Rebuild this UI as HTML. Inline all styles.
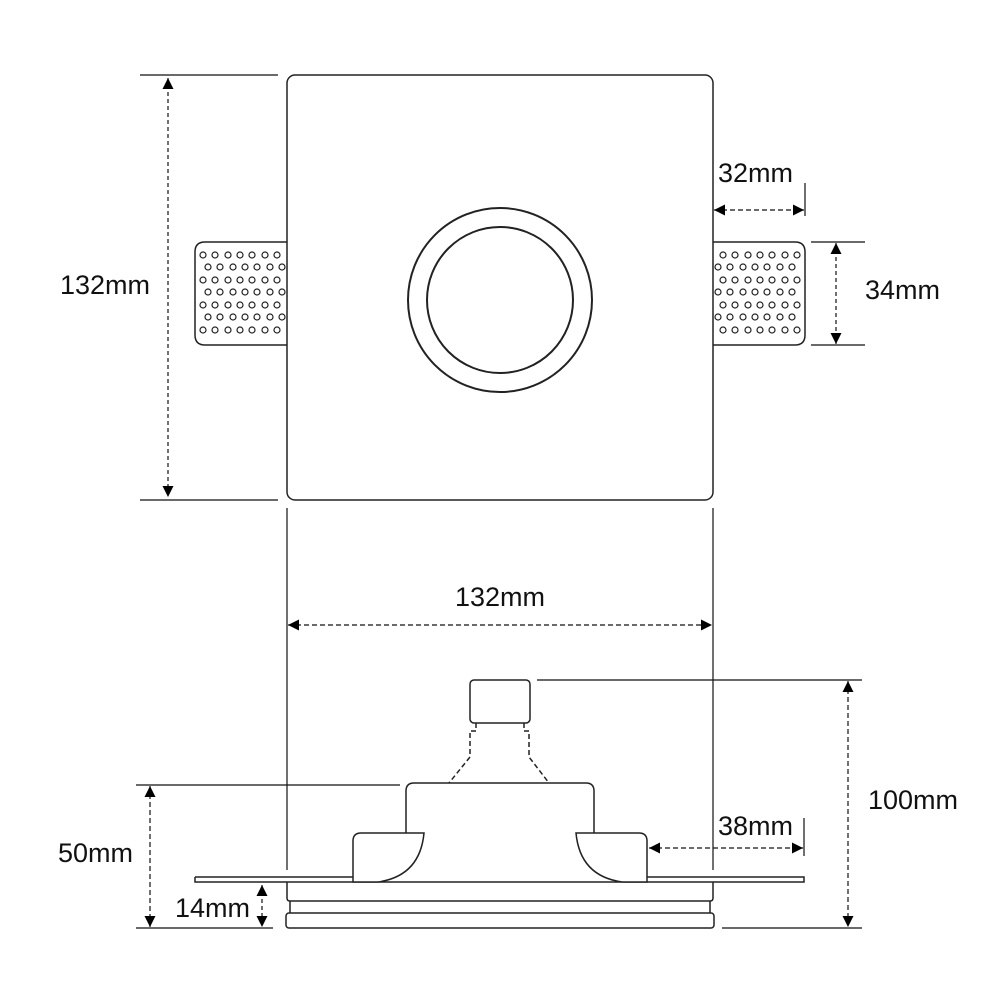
<!DOCTYPE html>
<html><head><style>
html,body{margin:0;padding:0;background:#fff;width:1000px;height:1000px;overflow:hidden}
text{font-family:"Liberation Sans",Arial,sans-serif;font-size:27px;fill:#111}
</style></head><body>
<svg width="1000" height="1000" viewBox="0 0 1000 1000" xmlns="http://www.w3.org/2000/svg">
<defs>
<marker id="ah" viewBox="0 0 10 10" refX="10" refY="5" markerWidth="11" markerHeight="11" markerUnits="userSpaceOnUse" orient="auto-start-reverse"><path d="M0,0 L10,5 L0,10 z" fill="#000"/></marker>
<g id="row1"><circle cx="203" r="3"/><circle cx="215" r="3"/><circle cx="228" r="3"/><circle cx="240" r="3"/><circle cx="252" r="3"/><circle cx="265" r="3"/><circle cx="277" r="3"/></g>
<g id="tab">
<path d="M287,242 H205 Q195,242 195,252 V335 Q195,345 205,345 H287"/>
<g stroke-width="1.2">
<use href="#row1" y="255"/><use href="#row1" y="280"/><use href="#row1" y="305"/><use href="#row1" y="330"/>
<use href="#row1" x="5" y="267"/><use href="#row1" x="5" y="292"/><use href="#row1" x="5" y="317"/>
</g>
</g>
</defs>
<g fill="none" stroke="#222" stroke-width="1.5">
<use href="#tab"/>
<use href="#tab" transform="translate(1000,0) scale(-1,1)"/>
<rect x="287" y="75" width="426" height="425" rx="8" fill="#fff"/>
<circle cx="500" cy="300" r="92" stroke-width="2"/>
<circle cx="500" cy="300" r="73" stroke-width="2"/>

<rect x="470" y="680" width="60" height="43" rx="4"/>
<path d="M476,723 V731 H470 V757 L449,783 M524,723 V731 H529 V757 L549,783" stroke-dasharray="5,3"/>
<path d="M406,833 V791 Q406,783 414,783 H586 Q594,783 594,791 V833"/>
<path d="M195,877 H353 M647,877 H804 V882 H195 V877"/>
<path d="M424,833 H361 Q353,833 353,841 V882 H378 Q420,876 424,833 Z" fill="#fff"/>
<path d="M576,833 H639 Q647,833 647,841 V882 H622 Q580,876 576,833 Z" fill="#fff"/>
<path d="M287,882 V898 Q287,901 290,901 H710 Q713,901 713,898 V882"/>
<path d="M290,901 V913 M710,901 V913"/>
<rect x="286" y="913" width="428" height="15" rx="3"/>
</g>

<g stroke="#111" stroke-width="1.2" fill="none">
<path d="M140,75 H278 M140,500 H278"/>
<path d="M168,78 V497" stroke-dasharray="4,3" marker-start="url(#ah)" marker-end="url(#ah)"/>
<path d="M805,183 V216"/>
<path d="M714,210 H804" stroke-dasharray="5,3" marker-start="url(#ah)" marker-end="url(#ah)"/>
<path d="M811,242 H865 M811,345 H865"/>
<path d="M836,243 V344" stroke-dasharray="4,3" marker-start="url(#ah)" marker-end="url(#ah)"/>
<path d="M287,508 V870 M713,508 V870"/>
<path d="M288,625 H712" stroke-dasharray="5,3" marker-start="url(#ah)" marker-end="url(#ah)"/>
<path d="M537,680 H862 M722,928 H862"/>
<path d="M848,681 V927" stroke-dasharray="5,3" marker-start="url(#ah)" marker-end="url(#ah)"/>
<path d="M136,785 H400 M136,928 H273"/>
<path d="M150,786 V927" stroke-dasharray="5,3" marker-start="url(#ah)" marker-end="url(#ah)"/>
<path d="M262,885 V927" stroke-dasharray="4,3" marker-start="url(#ah)" marker-end="url(#ah)"/>
<path d="M804,818 V856"/>
<path d="M649,848 H803" stroke-dasharray="5,3" marker-start="url(#ah)" marker-end="url(#ah)"/>
</g>

<text x="60" y="294">132mm</text>
<text x="718" y="182">32mm</text>
<text x="865" y="299">34mm</text>
<text x="500" y="606" text-anchor="middle">132mm</text>
<text x="868" y="809">100mm</text>
<text x="58" y="862">50mm</text>
<text x="175" y="917">14mm</text>
<text x="718" y="835">38mm</text>
</svg>
</body></html>
